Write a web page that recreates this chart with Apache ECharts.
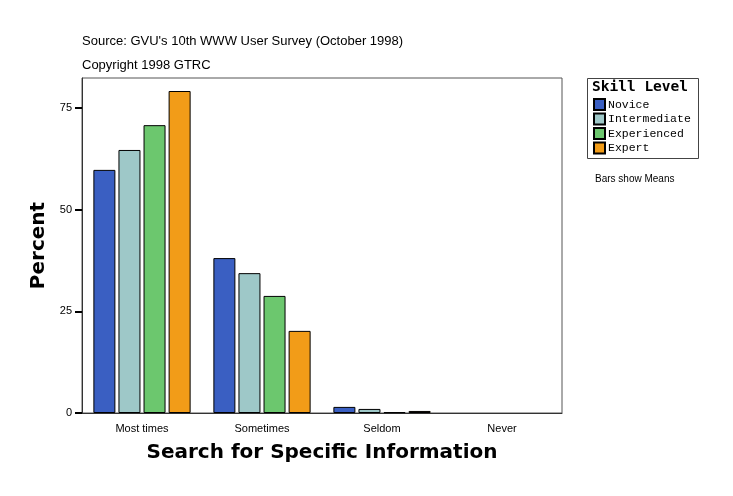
<!DOCTYPE html>
<html>
<head>
<meta charset="utf-8">
<script src="https://cdn.jsdelivr.net/npm/echarts@6/dist/echarts.min.js"></script>
<style>html,body{margin:0;padding:0;background:#fff;}#c{width:733px;height:496px;}</style>
</head>
<body>
<div id="c"></div>
<script>
const categories = ["Most times", "Sometimes", "Seldom", "Never"];
const novice = [59.8, 38.1, 1.5, 0];
const intermediate = [64.7, 34.4, 1.0, 0];
const experienced = [70.8, 28.8, 0.2, 0];
const expert = [79.2, 20.2, 0.5, 0];
const yTicks = [0, 25, 50, 75];

const seriesDefs = [
  { name: "Novice", data: novice, color: "#3a5fc2" },
  { name: "Intermediate", data: intermediate, color: "#9ec8c8" },
  { name: "Experienced", data: experienced, color: "#6cc76e" },
  { name: "Expert", data: expert, color: "#f29c18" }
];

const chart = echarts.init(document.getElementById('c'));
chart.setOption({
  backgroundColor: '#fff',
  animation: false,
  title: [
    { text: "Source: GVU's 10th WWW User Survey (October 1998)", left: 82, top: 35, padding: 0,
      textStyle: { fontFamily: 'Liberation Sans', fontSize: 13, fontWeight: 'normal', color: '#000' } },
    { text: "Copyright 1998 GTRC", left: 82, top: 59, padding: 0,
      textStyle: { fontFamily: 'Liberation Sans', fontSize: 13, fontWeight: 'normal', color: '#000' } }
  ],
  grid: { left: 82, top: 78, right: 171, bottom: 83, show: true, borderColor: '#555', borderWidth: 1, backgroundColor: 'transparent' },
  legend: {
    orient: 'vertical', left: 593, top: 98, padding: 0, itemWidth: 11, itemHeight: 11, itemGap: 1.5,
    icon: 'rect', selectedMode: false,
    textStyle: { fontFamily: 'Liberation Mono', fontSize: 11.5, color: '#000', padding: [0, 0, 0, -2] },
    data: seriesDefs.map(s => s.name)
  },
  graphic: [
    { type: 'rect', shape: { x: 587.5, y: 78.5, width: 111, height: 80 }, style: { fill: 'none', stroke: '#444', lineWidth: 1 } },
    { type: 'text', x: 592, y: 80, style: { text: 'Skill Level', font: 'bold 14.5px "DejaVu Sans Mono"', fill: '#000' } },
    { type: 'text', x: 595, y: 174, style: { text: 'Bars show Means', font: '10px "Liberation Sans"', fill: '#000' } }
  ],
  xAxis: {
    type: 'category', data: categories,
    name: 'Search for Specific Information', nameLocation: 'middle', nameGap: 30,
    nameTextStyle: { fontFamily: 'DejaVu Sans', fontWeight: 'bold', fontSize: 20, color: '#000' },
    axisLine: { lineStyle: { color: '#333', width: 1 } },
    axisTick: { alignWithLabel: true, length: 5, lineStyle: { color: '#000', width: 2 } },
    axisLabel: { fontFamily: 'Liberation Sans', fontSize: 11, color: '#000', margin: 10 }
  },
  yAxis: {
    type: 'value', min: 0, max: 82.4, interval: 25,
    name: 'Percent', nameLocation: 'middle', nameGap: 30, nameRotate: 90,
    nameTextStyle: { fontFamily: 'DejaVu Sans', fontWeight: 'bold', fontSize: 20, color: '#000' },
    axisLine: { show: true, lineStyle: { color: '#333', width: 1 } },
    axisTick: { show: true, length: 7, lineStyle: { color: '#000', width: 2 } },
    axisLabel: { fontFamily: 'Liberation Sans', fontSize: 11, color: '#000', margin: 10,
      showMaxLabel: false,
      formatter: v => yTicks.indexOf(v) >= 0 ? String(v) : '' },
    splitLine: { show: false }
  },
  series: seriesDefs.map(s => ({
    name: s.name, type: 'bar', barWidth: 22, barGap: '14%',
    data: s.data.map(v => v === 0 ? { value: v, itemStyle: { borderWidth: 0 } } : v),
    itemStyle: { color: s.color, borderColor: '#000', borderWidth: 1 }
  }))
});
</script>
</body>
</html>
